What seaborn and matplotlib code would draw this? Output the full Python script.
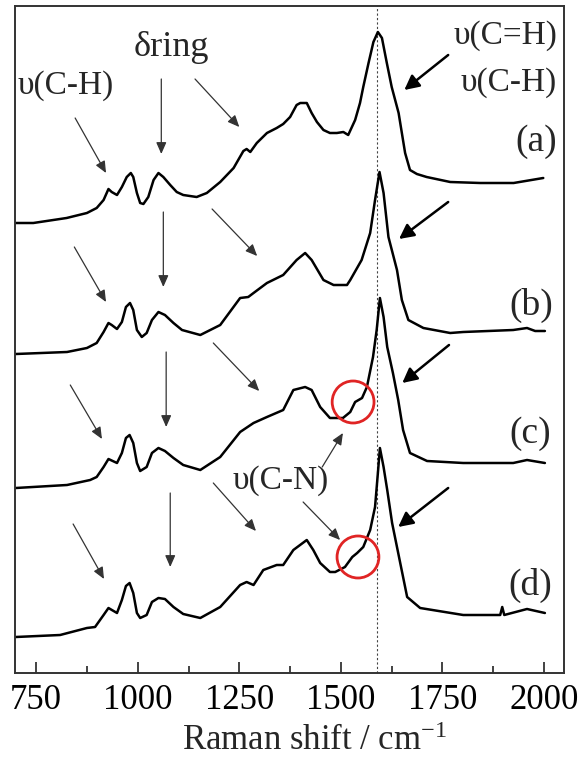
import numpy as np
import pandas as pd
import matplotlib
matplotlib.use("Agg")
import matplotlib.pyplot as plt
from matplotlib.patches import Ellipse
from matplotlib.ticker import MultipleLocator
import seaborn as sns

# Raman shift (cm-1) and stacked intensity (a.u.)
shift_a = [700, 743, 825, 875, 899, 916, 928, 936, 949, 961, 973, 983, 989, 998,
           1006, 1014, 1026, 1039, 1051, 1063, 1080, 1096, 1112, 1145, 1170, 1203,
           1236, 1260, 1268, 1277, 1293, 1318, 1342, 1358, 1375, 1391, 1400, 1416,
           1428, 1441, 1457, 1473, 1490, 1506, 1518, 1535, 1547, 1555, 1568, 1580,
           1591, 1601, 1613, 1625, 1642, 1650, 1658, 1670, 1687, 1711, 1769, 1843,
           1925, 1998]
int_a = [450, 450, 455, 460, 465, 473, 484, 481, 478, 486, 496, 500, 496, 480,
         470, 469, 476, 493, 500, 496, 488, 481, 478, 476, 480, 491,
         505, 522, 524, 521, 530, 540, 545, 549, 556, 568, 570, 570,
         560, 551, 543, 540, 540, 541, 538, 553, 570, 586, 610, 631,
         641, 635, 610, 586, 560, 540, 520, 503, 499, 496, 491, 490,
         490, 495]

shift_b = [700, 826, 875, 899, 916, 928, 936, 949, 961, 971, 981, 989, 998, 1010,
           1022, 1035, 1051, 1067, 1088, 1109, 1154, 1203, 1252, 1272, 1285, 1318,
           1358, 1391, 1412, 1428, 1457, 1482, 1515, 1523, 1551, 1572, 1584, 1595,
           1605, 1617, 1638, 1650, 1666, 1703, 1769, 1801, 1924, 1958, 1978, 2002]
int_b = [319, 321, 325, 330, 341, 350, 348, 344, 351, 366, 370, 363, 343, 336,
         340, 353, 361, 358, 350, 343, 338, 348, 375, 376, 380, 390,
         398, 413, 420, 413, 393, 388, 388, 393, 413, 440, 473, 501,
         480, 436, 403, 373, 353, 345, 340, 341, 343, 345, 342, 342]

shift_c = [700, 826, 883, 899, 916, 928, 949, 961, 971, 980, 989, 998, 1006, 1022,
           1035, 1051, 1067, 1088, 1112, 1154, 1203, 1252, 1285, 1318, 1358, 1383,
           1412, 1428, 1449, 1473, 1505, 1523, 1535, 1552, 1564, 1579, 1588, 1596,
           1605, 1614, 1628, 1641, 1653, 1670, 1712, 1801, 1924, 1958, 2002]
int_c = [185, 188, 193, 196, 206, 214, 210, 220, 235, 238, 230, 210, 202, 206,
         220, 225, 222, 215, 208, 203, 216, 241, 250, 256, 263, 283,
         286, 283, 266, 255, 255, 261, 271, 275, 286, 316, 343, 375,
         356, 326, 300, 273, 243, 220, 212, 210, 210, 213, 210]

shift_d = [700, 809, 875, 895, 916, 928, 949, 961, 971, 980, 989, 998, 1006, 1022,
           1035, 1051, 1067, 1088, 1112, 1154, 1203, 1252, 1268, 1285, 1309, 1342,
           1358, 1383, 1416, 1432, 1449, 1473, 1486, 1510, 1528, 1540, 1555, 1572,
           1584, 1591, 1596, 1605, 1614, 1626, 1638, 1651, 1663, 1695, 1801, 1892,
           1897, 1902, 1958, 2002]
int_d = [36, 38, 45, 46, 58, 65, 60, 73, 87, 90, 80, 60, 55, 58,
         71, 75, 74, 66, 59, 55, 66, 88, 91, 88, 103, 108,
         108, 123, 133, 123, 110, 101, 101, 106, 116, 120, 126, 143,
         166, 200, 225, 206, 183, 150, 126, 100, 76, 65, 58, 58,
         66, 58, 64, 60]

samples = ["(a)", "(b)", "(c)", "(d)"]
label_pos = [(1980, 531), (1968, 368), (1966, 239), (1966, 88)]
peak_line = 1588

df = pd.concat([
    pd.DataFrame({"shift": s, "intensity": i, "sample": name})
    for s, i, name in zip([shift_a, shift_b, shift_c, shift_d],
                          [int_a, int_b, int_c, int_d], samples)
])

sns.set_theme(style="ticks")
plt.rcParams["font.family"] = ["Liberation Serif", "DejaVu Serif"]
plt.rcParams["mathtext.fontset"] = "custom"
plt.rcParams["mathtext.rm"] = "Liberation Serif"
plt.rcParams["mathtext.default"] = "rm"

fig = plt.figure(figsize=(5.82, 7.65), dpi=100)
ax = fig.add_axes([15 / 582, 1 - 673 / 765, 549 / 582, 667 / 765])

sns.lineplot(data=df, x="shift", y="intensity", hue="sample", units="sample",
             estimator=None, sort=False, palette=["black"] * 4, legend=False,
             lw=1.8, ax=ax)
for line in ax.lines:
    line.set_solid_joinstyle("round")

ax.axvline(peak_line, color="#444444", lw=0.8, ls=(0, (2, 2)), zorder=1)

ax.set_xlim(698, 2049)
ax.set_ylim(0, 667)
ax.set_yticks([])
ax.set_ylabel("")
ax.xaxis.set_major_locator(MultipleLocator(250))
ax.xaxis.set_minor_locator(MultipleLocator(125))
ax.tick_params(axis="x", which="major", direction="in", length=8, width=1.2,
               labelsize=25, pad=8, colors="#222222", labelcolor="black")
ax.tick_params(axis="x", which="minor", direction="in", length=5, width=1.2,
               colors="#222222")
for sp in ax.spines.values():
    sp.set_linewidth(1.4)
    sp.set_color("#333333")
ax.set_xlabel("Raman shift / cm$^{-1}$", fontsize=25)
ax.xaxis.set_label_coords(0.545, -0.078)

for name, (x, y) in zip(samples, label_pos):
    ax.text(x, y, name, fontsize=27, ha="center", va="center")

ax.text(1082, 625, "δring", fontsize=26, ha="center", va="center")
ax.text(824, 587, "υ(C-H)", fontsize=24, ha="center", va="center")
ax.text(1906, 637, "υ(C=H)", fontsize=24, ha="center", va="center")
ax.text(1914, 590, "υ(C-H)", fontsize=24, ha="center", va="center")
ax.text(1353, 192, "υ(C-N)", fontsize=24, ha="center", va="center")

thin = dict(arrowstyle="-|>,head_length=0.5,head_width=0.22", color="#333333",
            lw=0.9, mutation_scale=14, shrinkA=0, shrinkB=0)
thick = dict(arrowstyle="-|>,head_length=0.55,head_width=0.28", color="black",
             lw=1.8, mutation_scale=16, shrinkA=0, shrinkB=0)

thin_arrows = [
    ((846, 555), (922, 500)), ((1058, 594), (1058, 519)), ((1141, 594), (1250, 546)),
    ((844, 426), (922, 371)), ((1063, 461), (1063, 386)), ((1183, 464), (1294, 417)),
    ((834, 288), (912, 234)), ((1070, 321), (1070, 246)), ((1186, 330), (1299, 282)),
    ((841, 149), (917, 94)), ((1080, 180), (1080, 106)), ((1186, 190), (1291, 142)),
    ((1454, 206), (1505, 240)), ((1407, 171), (1498, 133)),
]
thick_arrows = [
    ((1764, 618), (1656, 583)), ((1764, 471), (1643, 434)),
    ((1766, 328), (1651, 290)), ((1764, 185), (1641, 146)),
]
for tail, head in thin_arrows:
    ax.annotate("", xy=head, xytext=tail, arrowprops=thin)
for tail, head in thick_arrows:
    ax.annotate("", xy=head, xytext=tail, arrowprops=thick)

for cx, cy in [(1530, 271), (1542, 116)]:
    ax.add_patch(Ellipse((cx, cy), width=103, height=42, fill=False,
                         edgecolor="#e02424", lw=2, zorder=5))

fig.savefig("out.png", dpi=100)
